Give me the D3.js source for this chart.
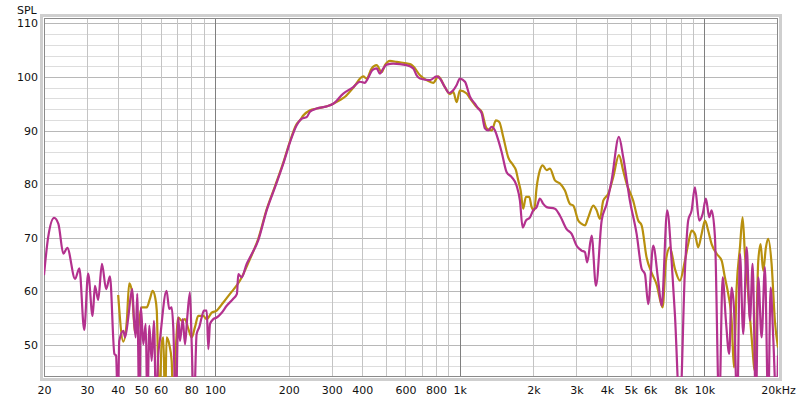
<!DOCTYPE html>
<html><head><meta charset="utf-8">
<script src="https://cdn.jsdelivr.net/npm/d3@7"></script>
<style>
body{margin:0;background:#fff}
svg{display:block}
text{font-family:"DejaVu Sans",sans-serif;font-size:11px;fill:#111}
</style>
</head><body>
<svg id="c" width="800" height="400"></svg>
<script>
// ---- data ----
const magentaFreq = [20,20.8,22.0,22.9,24.0,24.9,26.8,27.9,29.2,30.3,
31.6,32.3,33.3,34.5,35.9,37.2,38.8,39.4,40.1,40.6,
42.2,42.9,44.2,45.2,45.9,46.6,47.4,48.1,49.0,49.8,
50.9,52.1,52.9,53.9,55.1,56.3,57.4,58.6,59.6,63.4,
65.0,66.5,67.5,69.1,70.8,71.9,73.8,75.4,77.0,79.0,
80.3,82.0,84.1,86.2,88.2,90.1,92.5,93.9,95.4,98.4,
101.6,106.5,111.6,118.7,122.9,124.5,126.5,128.5,134.7,138.9,
150.2,162.6,175.8,190.1,202.5,215.6,226,236.9,244.4,260.3,
286,304.3,334.4,367.3,391.2,410,419,440.8,457.6,472.2,
484.6,503,535.2,607,646,667,688,756,805,830,
870,906,941,972,1002,1051,1102,1154,1191,1230,
1268,1308,1351,1394,1438,1484,1556,1631,1709,1763,
1808,1865,1937,1998,2063,2128,2196,2267,2451,2570,
2736,2868,3006,3150,3250,3321,3462,3606,3804,3988,
4178,4476,4660,4963,5287,5542,5717,5896,6180,6478,
6689,7050,7348,7580,7944,8328,8590,8872,9152,9528,
9838,10150,10470,10710,11050,11500,11880,12250,12640,12930,
13210,13630,13980,14420,14890,15360,15750,16250,16610,17140,
17680,18240,18660,19120,19740,20000];
const magentaSpl = [63.0,70.1,73.7,72.6,67.0,68.1,62.3,64.3,52.8,63.3,
55.4,61.0,58.4,65.1,60.4,62.8,48.3,48.0,38,50.7,
52.6,51.4,55.1,58.9,60.4,55.1,51.4,59.5,38,57.0,
50.1,53.9,38,53.6,47.0,54.5,38,48.0,51.1,60.1,
56.7,57.0,53.3,38,55.1,50.7,54.8,50.1,55.1,59.8,
50.1,38,52.0,53.3,55.1,56.4,56.4,49.2,53.9,54.8,
55.1,56.0,57.3,58.6,59.5,63.2,62.9,62.6,65.1,66.3,
69.5,75.1,79.4,83.8,87.8,91.0,92.2,92.5,93.5,94.1,
94.5,95.0,96.9,98.1,99.1,98.9,99.5,101.3,101.6,100.6,
101.4,102.3,102.5,102.2,101.6,100.3,99.7,99.4,100.1,99.7,
98.1,97.0,97.5,98.5,99.7,99.1,96.3,95.0,94.1,93.2,
90.4,90.0,90.7,90.0,88.2,86.0,82.2,81.3,79.7,76.9,
71.9,73.2,73.8,75.1,75.7,77.3,76.3,75.7,75.4,74.1,
71.6,70.7,68.5,67.6,67.3,65.4,70.4,61.0,73.2,76.3,
80.7,88.8,85.0,76.9,70.7,64.2,63.2,57.6,68.5,62.0,
57.3,75.1,65.7,55.7,38,63.8,73.2,75.1,79.4,73.2,
74.4,77.3,73.8,75.1,70.1,38,62.6,54.5,48.3,60.7,
57.0,38,67.0,52.0,68.2,54.5,65.1,38,62.6,51.4,
64.5,38,60.7,51.4,38,48];

const goldFreq = [40.2,42.2,43.6,44.6,45.7,47.1,48.1,50.1,52.6,54.2,
55.6,56.9,57.8,59.2,60.5,61.5,62.5,63.4,65.0,66.5,
67.5,69.3,70.8,73.1,75.4,77.8,80.3,82.8,85.4,89.5,
92.5,96.9,101.6,108.1,115.1,126.5,138.9,150.2,162.6,175.8,
190.1,202.5,215.6,222.4,229.4,244.4,260.3,295,324,339.8,
367.3,403.6,416.6,436.8,457.6,479.8,495,518.8,552.6,626.2,
646,688,732.8,779.8,817.4,870,912,941,972,1002,
1068,1102,1173,1230,1289,1351,1407,1451,1507,1579,
1656,1698,1735,1775,1818,1865,1925,1968,2017,2063,
2128,2183,2267,2338,2451,2570,2693,2822,2912,3052,
3150,3250,3354,3516,3629,3741,3862,4048,4242,4476,
4660,4812,5120,5368,5542,5808,6086,6380,6752,6966,
7230,7580,7944,8328,8590,8872,9152,9438,9746,10060,
10370,10710,11230,11770,12130,12520,12930,13210,13550,13980,
14330,14650,15110,15600,16100,16610,16980,17400,17850,18240,
18830,19420,20000];
const goldSpl = [59.3,50.6,54.5,61.5,60.1,52.5,52.3,57.0,57.0,58.6,
60.1,58.9,56.4,38,50.1,51.4,38,51.4,50.1,47.0,
38,50.1,55.1,54.5,54.8,53.0,51.4,53.3,55.4,55.4,
54.8,56.0,56.4,57.9,59.5,62.0,66.0,69.8,75.3,79.6,
84.0,88.0,91.2,91.9,92.8,93.8,94.1,94.7,95.7,96.3,
98.0,100.1,99.7,101.6,102.2,100.9,102.2,103.0,102.8,102.4,
102.0,100.3,99.4,98.9,100.1,98.1,96.8,97.2,95.3,97.5,
96.9,96.0,94.4,93.5,90.4,90.0,91.9,91.6,88.8,85.0,
83.5,82.6,80.7,78.8,75.4,77.6,77.6,75.7,75.1,79.4,
82.6,83.5,82.6,82.9,80.7,80.1,78.8,76.3,76.0,73.2,
72.6,72.3,73.8,76.0,75.1,73.5,76.9,78.2,81.3,85.4,
82.5,80.1,76.9,73.2,72.3,66.3,63.5,61.3,57.0,65.7,
68.2,64.2,62.0,65.7,68.8,71.3,70.7,68.2,70.7,73.2,
71.3,68.8,67.0,65.7,62.6,59.5,54.5,45.8,60.7,68.2,
73.8,67.0,59.5,51.4,45.1,65.7,68.8,63.8,68.2,69.8,
65.1,54.5,49.5];

const xTicks = [20,30,40,50,60,80,100,200,300,400,600,800,1000,2000,3000,4000,5000,6000,8000,10000,20000];
const yTicks = [50,60,70,80,90,100,110];
const yLabel = "SPL";

// ---- chart ----
const svg = d3.select("#c");
const L = 44, R = 778, T = 18, B = 377;
const x = d3.scaleLog().domain([20, 20000]).range([L, R]);
const y = d3.scaleLinear().domain([44, 111]).range([B, T]);

// frame shadow
svg.append("rect").attr("x", L - 2.5).attr("y", T - 2.5).attr("width", R - L + 5).attr("height", B - T + 5)
  .attr("fill", "none").attr("stroke", "#cfcfcf").attr("stroke-width", 3);
svg.append("rect").attr("x", L).attr("y", T).attr("width", R - L).attr("height", B - T).attr("fill", "#fff");

const grid = svg.append("g");
// horizontal grid every 2 dB
d3.range(46, 111, 2).forEach(v => {
  grid.append("line").attr("x1", L).attr("x2", R).attr("y1", Math.round(y(v)) + 0.5).attr("y2", Math.round(y(v)) + 0.5)
    .attr("stroke", v % 10 === 0 ? "#b8b8b8" : "#dddddd").attr("stroke-width", 1);
});
// vertical grid
const vlines = [];
[10, 100, 1000, 10000].forEach(dec => { for (let k = 1; k <= 9; k++) { const f = dec * k; if (f > 20 && f < 20000) vlines.push(f); } });
vlines.forEach(f => {
  const major = [100, 1000, 10000].includes(f);
  grid.append("line").attr("y1", T).attr("y2", B).attr("x1", Math.round(x(f)) + 0.5).attr("x2", Math.round(x(f)) + 0.5)
    .attr("stroke", major ? "#7f7f7f" : "#c4c4c4").attr("stroke-width", 1);
});

// frame line
svg.append("rect").attr("x", L + 0.5).attr("y", T + 0.5).attr("width", R - L - 1).attr("height", B - T - 1)
  .attr("fill", "none").attr("stroke", "#8a8a8a").attr("stroke-width", 1);

// curves
svg.append("clipPath").attr("id", "clip").append("rect").attr("x", L).attr("y", T).attr("width", R - L).attr("height", B - T);
const line = d3.line().x(d => x(d[0])).y(d => y(d[1])).curve(d3.curveMonotoneX);
const plot = svg.append("g").attr("clip-path", "url(#clip)");
plot.append("path").datum(d3.zip(goldFreq, goldSpl)).attr("d", line)
  .attr("fill", "none").attr("stroke", "#b8900e").attr("stroke-width", 2.2).attr("stroke-linejoin", "round");
plot.append("path").datum(d3.zip(magentaFreq, magentaSpl)).attr("d", line)
  .attr("fill", "none").attr("stroke", "#b3318e").attr("stroke-width", 2.2).attr("stroke-linejoin", "round");

// axes
const fmt = v => v === 20000 ? "20kHz" : (v >= 1000 ? (v / 1000) + "k" : String(v));
const xa = svg.append("g").attr("transform", `translate(0,${B})`)
  .call(d3.axisBottom(x).tickValues(xTicks).tickFormat(fmt).tickSize(0).tickPadding(9));
xa.select(".domain").remove();
xa.selectAll("text").attr("font-size", 11).attr("font-family", "DejaVu Sans, sans-serif").attr("fill", "#111");

const ya = svg.append("g").attr("transform", `translate(${L},0)`)
  .call(d3.axisLeft(y).tickValues(yTicks).tickFormat(d3.format("d")).tickSize(0).tickPadding(6));
ya.select(".domain").remove();
ya.selectAll("text").attr("font-size", 11).attr("font-family", "DejaVu Sans, sans-serif").attr("fill", "#111");

svg.append("text").attr("x", 17).attr("y", 13.5).text(yLabel);
</script>
</body></html>
